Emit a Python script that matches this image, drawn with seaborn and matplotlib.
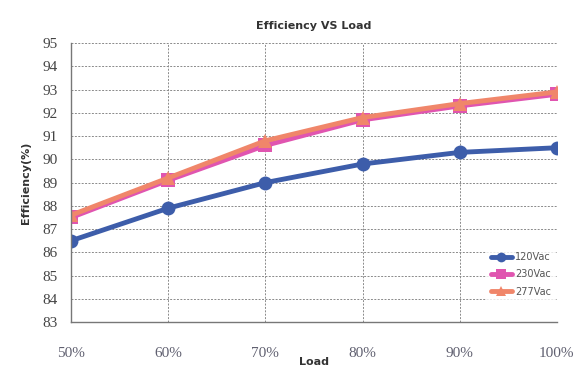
import matplotlib
matplotlib.use("Agg")
import matplotlib.pyplot as plt
import seaborn as sns
import pandas as pd

loads = [50, 60, 70, 80, 90, 100]
load_labels = ["50%", "60%", "70%", "80%", "90%", "100%"]
eff_120 = [86.5, 87.9, 89.0, 89.8, 90.3, 90.5]
eff_230 = [87.5, 89.1, 90.6, 91.7, 92.3, 92.8]
eff_277 = [87.6, 89.2, 90.8, 91.8, 92.4, 92.9]
series = ["120Vac", "230Vac", "277Vac"]
y_ticks = list(range(83, 96))

df = pd.concat([
    pd.DataFrame({"Load": loads, "Eff": eff_120, "Series": series[0]}),
    pd.DataFrame({"Load": loads, "Eff": eff_230, "Series": series[1]}),
    pd.DataFrame({"Load": loads, "Eff": eff_277, "Series": series[2]}),
])

sns.set_style("white")
fig = plt.figure(figsize=(5.74, 3.82), dpi=100)
ax = fig.add_axes([0.124, 0.157, 0.846, 0.730])

palette = {"120Vac": "#3D5DAA", "230Vac": "#E055B0", "277Vac": "#F0866A"}
markers = {"120Vac": "o", "230Vac": "s", "277Vac": "^"}
sns.lineplot(data=df, x="Load", y="Eff", hue="Series", style="Series",
             palette=palette, markers=markers, dashes=False, linewidth=3.5,
             markersize=10, markeredgewidth=0, ax=ax)

ax.set_xlim(50, 100)
ax.set_ylim(83, 95)
ax.set_xticks(loads)
ax.set_xticklabels(load_labels, fontfamily="Liberation Serif", fontsize=11, color="#606070")
ax.set_yticks(y_ticks)
ax.set_yticklabels([str(v) for v in y_ticks], fontfamily="Liberation Serif", fontsize=11, color="#444444")
ax.tick_params(axis="x", pad=18, length=0)
ax.tick_params(axis="y", pad=10, length=0)
ax.grid(True, linestyle=(0, (2, 1.5)), color="#8a8a8a", linewidth=0.7)
for s in ["top", "right"]:
    ax.spines[s].set_visible(False)
for s in ["left", "bottom"]:
    ax.spines[s].set_color("#777777")
    ax.spines[s].set_linewidth(1.0)
ax.set_xlabel("Load", fontsize=8, color="#333333", labelpad=-2, fontweight="bold")
ax.set_ylabel("Efficiency(%)", fontsize=8, color="#333333", labelpad=8, fontweight="bold")
ax.set_title("Efficiency VS Load", fontsize=8, color="#333333", pad=10, fontweight="bold")

leg = ax.legend(loc="lower right", bbox_to_anchor=(1.0, 0.07), fontsize=7,
                frameon=True, facecolor="white", handlelength=2.2, labelspacing=0.75,
                markerscale=0.7, handletextpad=0.3, borderaxespad=0.2)
leg.get_frame().set_edgecolor("white")
leg.get_frame().set_linewidth(0)
leg.get_frame().set_boxstyle("square", pad=0.1)
for t in leg.get_texts():
    t.set_color("#555555")

fig.savefig("out.png", dpi=100)
